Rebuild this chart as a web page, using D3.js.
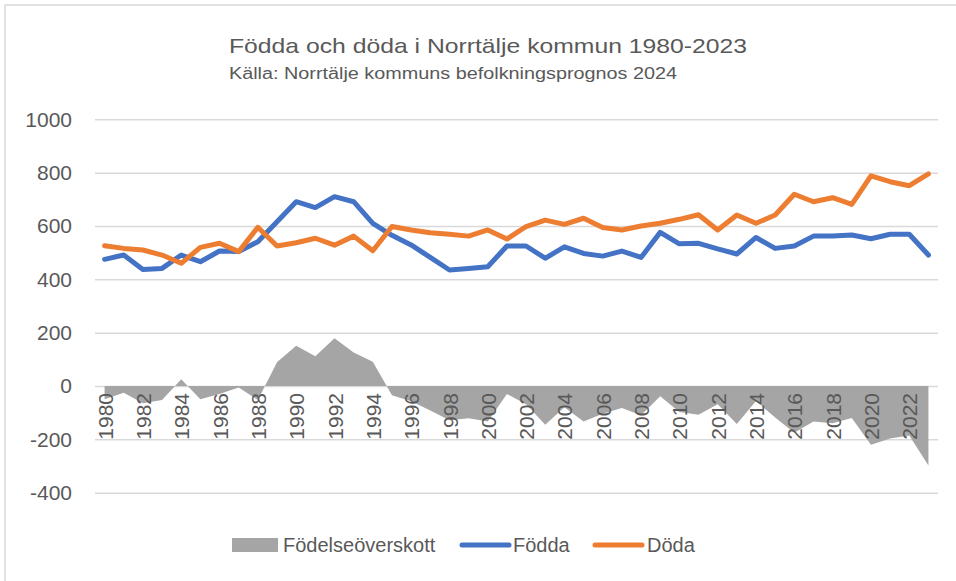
<!DOCTYPE html>
<html>
<head>
<meta charset="utf-8">
<script src="https://cdn.jsdelivr.net/npm/d3@7"></script>
<style>
  html, body { margin: 0; padding: 0; background: #ffffff; }
  svg { display: block; }
</style>
</head>
<body>
<svg id="chart" width="956" height="581"></svg>
<script>
const years = [1980,1981,1982,1983,1984,1985,1986,1987,1988,1989,1990,1991,1992,1993,1994,1995,
  1996,1997,1998,1999,2000,2001,2002,2003,2004,2005,2006,2007,2008,2009,
  2010,2011,2012,2013,2014,2015,2016,2017,2018,2019,2020,2021,2022,2023];

const fodda = [475,491,437,441,491,466,506,504,541,616,691,669,710,691,610,565,
  529,482,435,441,447,525,525,479,522,497,487,506,482,576,
  533,535,514,495,557,516,525,562,562,566,552,569,569,491];

const doda = [526,516,510,491,460,520,535,504,595,525,537,554,528,562,507,598,
  585,575,569,562,585,551,598,622,606,629,594,585,600,610,
  625,642,585,641,610,641,719,691,706,681,788,766,751,795];

const overskott = [-50,-25,-65,-52,25,-50,-30,-6,-52,89,151,112,179,126,91,-35,
  -57,-92,-128,-121,-133,-30,-68,-145,-80,-133,-104,-82,-110,-38,
  -97,-108,-68,-142,-56,-118,-175,-133,-140,-120,-220,-197,-186,-298];

const yTicks = [-400,-200,0,200,400,600,800,1000];
const xTickLabels = years.filter(y => y % 2 === 0);

const titleText = "Födda och döda i Norrtälje kommun 1980-2023";
const subtitleText = "Källa: Norrtälje kommuns befolkningsprognos 2024";
const seriesNames = ["Födelseöverskott", "Födda", "Döda"];

const colors = { area: "#A5A5A5", fodda: "#4472C4", doda: "#ED7D31", grid: "#D9D9D9", text: "#595959" };
const font = "'Liberation Sans', Arial, sans-serif";

const svg = d3.select("#chart");

// outer border
svg.append("rect").attr("x", 5).attr("y", 5).attr("width", 980).attr("height", 620)
  .attr("fill", "#fff").attr("stroke", "#D9D9D9").attr("stroke-width", 1.5);

const x = d3.scalePoint().domain(years).range([95, 938]).padding(0.5);
const y = d3.scaleLinear().domain([-400, 1000]).range([492.7, 119.3]);

// gridlines + y labels
const yAxis = d3.axisLeft(y).tickValues(yTicks).tickFormat(d => String(d))
  .tickSize(-(938 - 95)).tickPadding(23);
const gy = svg.append("g").attr("transform", "translate(95,0)").call(yAxis);
gy.select(".domain").remove();
gy.selectAll(".tick line").attr("stroke", colors.grid).attr("stroke-width", 1.5);
gy.selectAll(".tick text").attr("fill", colors.text).attr("font-family", font).attr("font-size", 21);

// area
const area = d3.area().x((d, i) => x(years[i])).y0(y(0)).y1(d => y(d));
svg.append("path").datum(overskott).attr("d", area).attr("fill", colors.area);

// x axis labels (rotated)
const xAxis = d3.axisBottom(x).tickValues(xTickLabels).tickFormat(d => String(d)).tickSize(0).tickPadding(0);
const gx = svg.append("g").attr("transform", `translate(0,${y(0)})`).call(xAxis);
gx.select(".domain").remove();
gx.selectAll(".tick text")
  .attr("fill", colors.text).attr("font-family", font).attr("font-size", 21)
  .attr("transform", "rotate(-90)")
  .attr("text-anchor", "end")
  .attr("x", -7).attr("y", 0).attr("dy", "0.36em");

// lines
const line = d3.line().x((d, i) => x(years[i])).y(d => y(d));
svg.append("path").datum(fodda).attr("d", line).attr("fill", "none")
  .attr("stroke", colors.fodda).attr("stroke-width", 5).attr("stroke-linejoin", "round").attr("stroke-linecap", "round");
svg.append("path").datum(doda).attr("d", line).attr("fill", "none")
  .attr("stroke", colors.doda).attr("stroke-width", 5).attr("stroke-linejoin", "round").attr("stroke-linecap", "round");

// title
svg.append("text").attr("x", 229).attr("y", 53).attr("fill", colors.text)
  .attr("font-family", font).attr("font-size", 21)
  .attr("textLength", 518).attr("lengthAdjust", "spacingAndGlyphs").text(titleText);
svg.append("text").attr("x", 229).attr("y", 79).attr("fill", colors.text)
  .attr("font-family", font).attr("font-size", 16)
  .attr("textLength", 448).attr("lengthAdjust", "spacingAndGlyphs").text(subtitleText);

// legend
const lg = svg.append("g");
lg.append("rect").attr("x", 232).attr("y", 538).attr("width", 46).attr("height", 14).attr("fill", colors.area);
lg.append("text").attr("x", 283).attr("y", 552).attr("fill", colors.text).attr("font-family", font).attr("font-size", 20).text(seriesNames[0]);
lg.append("line").attr("x1", 462).attr("x2", 509).attr("y1", 545).attr("y2", 545)
  .attr("stroke", colors.fodda).attr("stroke-width", 5).attr("stroke-linecap", "round");
lg.append("text").attr("x", 513).attr("y", 552).attr("fill", colors.text).attr("font-family", font).attr("font-size", 20).text(seriesNames[1]);
lg.append("line").attr("x1", 595).attr("x2", 642).attr("y1", 545).attr("y2", 545)
  .attr("stroke", colors.doda).attr("stroke-width", 5).attr("stroke-linecap", "round");
lg.append("text").attr("x", 647).attr("y", 552).attr("fill", colors.text).attr("font-family", font).attr("font-size", 20).text(seriesNames[2]);
</script>
</body>
</html>
